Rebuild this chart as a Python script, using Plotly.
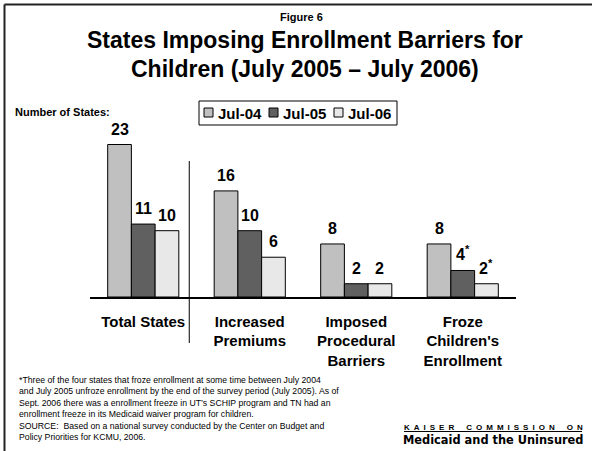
import plotly.graph_objects as go

# Survey counts (number of states) by barrier type and year
categories = ["Total States", "Increased<br>Premiums", "Imposed<br>Procedural<br>Barriers",
              "Froze<br>Children's<br>Enrollment"]
series_names = ["Jul-04", "Jul-05", "Jul-06"]
jul04 = [23, 16, 8, 8]
jul05 = [11, 10, 2, 4]
jul06 = [10, 6, 2, 2]
# footnote markers attached to the value labels
jul04_notes = ["", "", "", ""]
jul05_notes = ["", "", "", "*"]
jul06_notes = ["", "", "", "*"]

colors = ["#c0c0c0", "#606060", "#e8e8e8"]

footnote_lines = [
    "*Three of the four states that froze enrollment at some time between July 2004",
    "and July 2005 unfroze enrollment by the end of the survey period (July 2005). As of",
    "Sept. 2006 there was a enrollment freeze in UT\u2019s SCHIP program and TN had an",
    "enrollment freeze in its Medicaid waiver program for children.",
    "SOURCE:  Based on a national survey conducted by the Center on Budget and",
    "Policy Priorities for KCMU, 2006.",
]

FONT = "Liberation Sans, Arial, sans-serif"
W, H = 592, 451
L, R, T, B = 90, 76, 131, 154
PW, PH = W - L - R, H - T - B
BARGAP = 0.332
YMAX = PH / 6.63


def px(x):
    return (x - L) / PW


def py(y):
    return (H - B - y) / PH


def note(x, y, text, size, xanchor="center", family=FONT):
    return dict(x=px(x), y=py(y), xref="paper", yref="paper", text=text, showarrow=False,
                xanchor=xanchor, yanchor="middle", font=dict(family=family, size=size, color="black"))


fig = go.Figure()
xs = list(range(len(categories)))
all_series = [jul04, jul05, jul06]
all_notes = [jul04_notes, jul05_notes, jul06_notes]
for name, vals, col in zip(series_names, all_series, colors):
    fig.add_bar(x=xs, y=vals, name=name, marker=dict(color=col, line=dict(color="black", width=1)),
                showlegend=False)

annotations = []
# value labels above each bar
bw = (1 - BARGAP) / len(series_names)
for j, (vals, notes) in enumerate(zip(all_series, all_notes)):
    off = (j - 1) * bw
    for i, (v, n) in enumerate(zip(vals, notes)):
        txt = f"<b>{v}</b>" + (f"<sup><b>{n}</b></sup>" if n else "")
        annotations.append(dict(x=i + off, y=v, xref="x", yref="y", text=txt, showarrow=False,
                                xanchor="center", yanchor="bottom", yshift=5,
                                font=dict(family=FONT, size=16, color="black")))

# titles
annotations += [
    note(301, 17, "<b>Figure 6</b>", 11),
    note(305, 40, "<b>States Imposing Enrollment Barriers for</b>", 23),
    note(305, 69, "<b>Children (July 2005 \u2013 July 2006)</b>", 23),
    note(13, 112, "<b>Number of States:</b>", 11, xanchor="left"),
]

# legend
shapes = [
    dict(type="rect", xref="paper", yref="paper", x0=px(199), x1=px(397), y0=py(101), y1=py(125),
         line=dict(color="black", width=1), fillcolor="white"),
]
for k, (name, col) in enumerate(zip(series_names, colors)):
    sx = 204 + 65 * k
    shapes.append(dict(type="rect", xref="paper", yref="paper", x0=px(sx), x1=px(sx + 9),
                       y0=py(108), y1=py(117), line=dict(color="black", width=1), fillcolor=col))
    annotations.append(note(sx + 12, 113, f"<b>{name}</b>", 15, xanchor="left"))

# separator between the total and the individual barriers
shapes.append(dict(type="line", xref="x", yref="paper", x0=0.432, x1=0.432, y0=py(161), y1=py(343),
                   line=dict(color="black", width=1)))

# frame
shapes.append(dict(type="line", xref="paper", yref="paper", x0=px(4.5), x1=px(4.5), y0=py(4.5), y1=py(460),
                   line=dict(color="#222", width=2)))
shapes.append(dict(type="line", xref="paper", yref="paper", x0=px(4.5), x1=px(600), y0=py(4.5), y1=py(4.5),
                   line=dict(color="#222", width=2)))

# footnotes
for k, line in enumerate(footnote_lines):
    annotations.append(note(17, 380 + 11.4 * k, line, 8.7, xanchor="left"))

# organisation mark (letter-spaced header with underline, heavy name below)
sp = "\u2002"
header = (sp * 3).join(sp.join(word) for word in ["KAISER", "COMMISSION", "ON"])
annotations += [
    note(493, 427, f"<b>{header}</b>", 8),
    note(493, 440, "<b>Medicaid and the Uninsured</b>", 11.4, family="DejaVu Sans"),
]
shapes.append(dict(type="line", xref="paper", yref="paper", x0=px(404), x1=px(582), y0=py(431.5), y1=py(431.5),
                   line=dict(color="black", width=1)))

fig.update_layout(
    width=W, height=H, margin=dict(l=L, r=R, t=T, b=B),
    paper_bgcolor="white", plot_bgcolor="white",
    barmode="group", bargap=BARGAP, bargroupgap=0,
    font=dict(family=FONT, color="black"),
    xaxis=dict(range=[-0.5, 3.5], tickvals=xs, ticktext=[f"<b>{c}</b>" for c in categories],
               showline=True, linecolor="black", linewidth=1.5, showgrid=False, zeroline=False,
               ticks="", ticklabelstandoff=10, tickfont=dict(family=FONT, size=15, color="black")),
    yaxis=dict(range=[0, YMAX], visible=False, showgrid=False, zeroline=False),
    annotations=annotations, shapes=shapes,
)

fig.write_html("out.html")
